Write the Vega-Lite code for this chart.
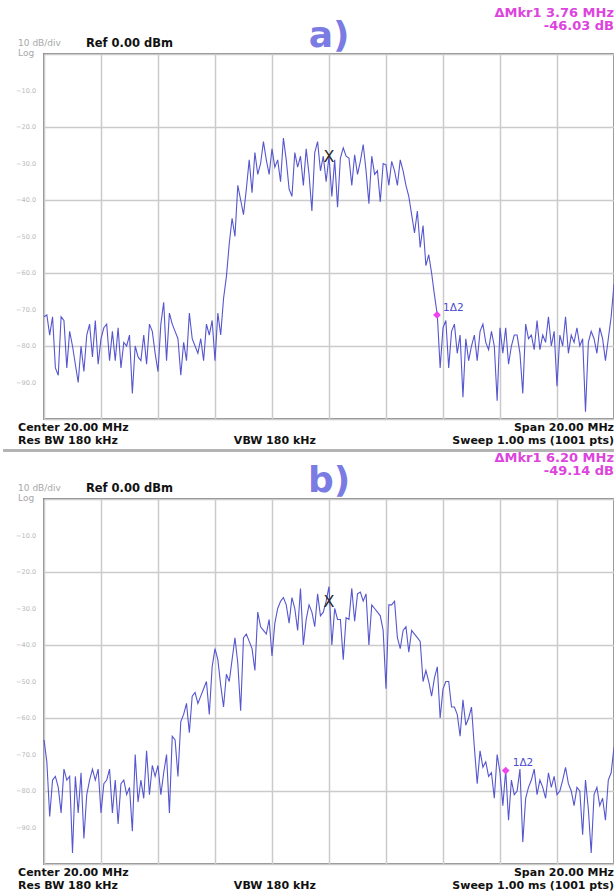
{
"$schema": "https://vega.github.io/schema/vega-lite/v6.json",
"autosize": {"type": "pad"},
"padding": 0,
"bounds": "flush",
"spacing": 80,
"background": "white",
"config": {
  "view": {"stroke": "#8c8c8c", "strokeWidth": 2},
  "font": "DejaVu Sans",
  "text": {"font": "DejaVu Sans"},
  "axis": {"labelFont": "DejaVu Sans"}
},
"datasets": {
"ticks": [{"v":-10},{"v":-20},{"v":-30},{"v":-40},{"v":-50},{"v":-60},{"v":-70},{"v":-80},{"v":-90}],
"tr": [
{"f":10.0,"a":-72,"b":-66},{"f":10.1,"a":-71.5,"b":-72},{"f":10.2,"a":-77,"b":-87},{"f":10.3,"a":-72,"b":-77},{"f":10.4,"a":-86,"b":-76},
{"f":10.5,"a":-88,"b":-79},{"f":10.6,"a":-72,"b":-86},{"f":10.7,"a":-73,"b":-74},{"f":10.8,"a":-86,"b":-77},{"f":10.9,"a":-76,"b":-76},
{"f":11.0,"a":-80,"b":-97},{"f":11.1,"a":-85,"b":-76},{"f":11.2,"a":-90,"b":-86},{"f":11.3,"a":-80,"b":-75},{"f":11.4,"a":-87,"b":-93},
{"f":11.5,"a":-77,"b":-81},{"f":11.6,"a":-74,"b":-77},{"f":11.7,"a":-83,"b":-74},{"f":11.8,"a":-73,"b":-77},{"f":11.9,"a":-85,"b":-74},
{"f":12.0,"a":-78,"b":-86},{"f":12.1,"a":-75,"b":-78},{"f":12.2,"a":-74,"b":-77},{"f":12.3,"a":-84,"b":-74},{"f":12.4,"a":-76,"b":-86},
{"f":12.5,"a":-84,"b":-77},{"f":12.6,"a":-75,"b":-89},{"f":12.7,"a":-86,"b":-78},{"f":12.8,"a":-79,"b":-77},{"f":12.9,"a":-80,"b":-81},
{"f":13.0,"a":-77,"b":-79},{"f":13.1,"a":-93,"b":-91},{"f":13.2,"a":-80,"b":-70},{"f":13.3,"a":-83,"b":-83},{"f":13.4,"a":-84,"b":-77},
{"f":13.5,"a":-77,"b":-82},{"f":13.6,"a":-85,"b":-69},{"f":13.7,"a":-74,"b":-81},{"f":13.8,"a":-76,"b":-73},{"f":13.9,"a":-82,"b":-76},
{"f":14.0,"a":-87,"b":-73},{"f":14.1,"a":-74,"b":-81},{"f":14.2,"a":-68,"b":-75},{"f":14.3,"a":-84,"b":-70},{"f":14.4,"a":-71,"b":-86},
{"f":14.5,"a":-74,"b":-65},{"f":14.6,"a":-76,"b":-66},{"f":14.7,"a":-78,"b":-76},{"f":14.8,"a":-88,"b":-61},{"f":14.9,"a":-79,"b":-59},
{"f":15.0,"a":-84,"b":-56},{"f":15.1,"a":-71,"b":-64},{"f":15.2,"a":-78,"b":-54},{"f":15.3,"a":-80,"b":-53},{"f":15.4,"a":-82,"b":-56},
{"f":15.5,"a":-78,"b":-54},{"f":15.6,"a":-84,"b":-52},{"f":15.7,"a":-74,"b":-50},{"f":15.8,"a":-77,"b":-59},{"f":15.9,"a":-73,"b":-46},
{"f":16.0,"a":-84,"b":-41},{"f":16.1,"a":-71,"b":-44},{"f":16.2,"a":-77,"b":-51},{"f":16.3,"a":-67,"b":-57},{"f":16.4,"a":-61,"b":-48},
{"f":16.5,"a":-52,"b":-50},{"f":16.6,"a":-45,"b":-44},{"f":16.7,"a":-50,"b":-38},{"f":16.8,"a":-36,"b":-45},{"f":16.9,"a":-40,"b":-58},
{"f":17.0,"a":-44,"b":-38},{"f":17.1,"a":-37,"b":-37},{"f":17.2,"a":-29,"b":-39},{"f":17.3,"a":-38,"b":-41},{"f":17.4,"a":-27,"b":-47},
{"f":17.5,"a":-33,"b":-31},{"f":17.6,"a":-30,"b":-35},{"f":17.7,"a":-24,"b":-36},{"f":17.8,"a":-29,"b":-37},{"f":17.9,"a":-33,"b":-33},
{"f":18.0,"a":-26,"b":-43},{"f":18.1,"a":-31,"b":-34},{"f":18.2,"a":-29,"b":-30},{"f":18.3,"a":-35,"b":-28},{"f":18.4,"a":-23,"b":-27},
{"f":18.5,"a":-29,"b":-29},{"f":18.6,"a":-37,"b":-34},{"f":18.7,"a":-39,"b":-27},{"f":18.8,"a":-27,"b":-30},{"f":18.9,"a":-31,"b":-36},
{"f":19.0,"a":-28,"b":-24.5},{"f":19.1,"a":-36,"b":-40},{"f":19.2,"a":-26,"b":-33},{"f":19.3,"a":-33,"b":-29},{"f":19.4,"a":-43,"b":-31},
{"f":19.5,"a":-27,"b":-35},{"f":19.6,"a":-24,"b":-26},{"f":19.7,"a":-32,"b":-32},{"f":19.8,"a":-28,"b":-31},{"f":19.9,"a":-35,"b":-28},
{"f":20.0,"a":-28,"b":-24},{"f":20.1,"a":-39,"b":-40},{"f":20.2,"a":-29,"b":-30},{"f":20.3,"a":-42,"b":-33},{"f":20.4,"a":-28.5,"b":-33},
{"f":20.5,"a":-25.7,"b":-44},{"f":20.6,"a":-28,"b":-32.5},{"f":20.7,"a":-28.5,"b":-33},{"f":20.8,"a":-36,"b":-24.5},{"f":20.9,"a":-27.6,"b":-33.5},
{"f":21.0,"a":-33,"b":-26},{"f":21.1,"a":-29.4,"b":-25.5},{"f":21.2,"a":-24.8,"b":-28},{"f":21.3,"a":-32,"b":-26},{"f":21.4,"a":-41,"b":-40},
{"f":21.5,"a":-28,"b":-29},{"f":21.6,"a":-33,"b":-30},{"f":21.7,"a":-32,"b":-31},{"f":21.8,"a":-40.5,"b":-32},{"f":21.9,"a":-30,"b":-36},
{"f":22.0,"a":-30.4,"b":-52},{"f":22.1,"a":-36,"b":-29},{"f":22.2,"a":-29.4,"b":-29},{"f":22.3,"a":-32,"b":-28},{"f":22.4,"a":-36,"b":-38},
{"f":22.5,"a":-29,"b":-41},{"f":22.6,"a":-32,"b":-36},{"f":22.7,"a":-36,"b":-35},{"f":22.8,"a":-39,"b":-42},{"f":22.9,"a":-44,"b":-36},
{"f":23.0,"a":-49,"b":-37},{"f":23.1,"a":-43,"b":-38},{"f":23.2,"a":-53,"b":-39},{"f":23.3,"a":-47,"b":-50},{"f":23.4,"a":-58,"b":-47},
{"f":23.5,"a":-55,"b":-50},{"f":23.6,"a":-60,"b":-54},{"f":23.7,"a":-66,"b":-49},{"f":23.8,"a":-71.5,"b":-46},{"f":23.9,"a":-86,"b":-60},
{"f":24.0,"a":-75,"b":-52},{"f":24.1,"a":-73,"b":-50},{"f":24.2,"a":-86,"b":-50},{"f":24.3,"a":-76,"b":-57},{"f":24.4,"a":-74,"b":-57},
{"f":24.5,"a":-82,"b":-59},{"f":24.6,"a":-77,"b":-65},{"f":24.7,"a":-94,"b":-55},{"f":24.8,"a":-78,"b":-62},{"f":24.9,"a":-84,"b":-60},
{"f":25.0,"a":-80,"b":-57},{"f":25.1,"a":-77,"b":-68},{"f":25.2,"a":-84,"b":-78},{"f":25.3,"a":-76,"b":-69},{"f":25.4,"a":-74,"b":-73.5},
{"f":25.5,"a":-79,"b":-72},{"f":25.6,"a":-81,"b":-76},{"f":25.7,"a":-76,"b":-75},{"f":25.8,"a":-80,"b":-82},{"f":25.9,"a":-95,"b":-70},
{"f":26.0,"a":-75,"b":-75},{"f":26.1,"a":-82,"b":-84},{"f":26.2,"a":-75,"b":-74.4},{"f":26.3,"a":-85,"b":-88},{"f":26.4,"a":-80,"b":-77},
{"f":26.5,"a":-77,"b":-81},{"f":26.6,"a":-77,"b":-80},{"f":26.7,"a":-82,"b":-74},{"f":26.8,"a":-93,"b":-94},{"f":26.9,"a":-74,"b":-82},
{"f":27.0,"a":-78,"b":-79},{"f":27.1,"a":-77,"b":-77},{"f":27.2,"a":-81,"b":-74},{"f":27.3,"a":-73,"b":-81},{"f":27.4,"a":-81,"b":-77},
{"f":27.5,"a":-77,"b":-79},{"f":27.6,"a":-79,"b":-82},{"f":27.7,"a":-72,"b":-75},{"f":27.8,"a":-80,"b":-79},{"f":27.9,"a":-76,"b":-76},
{"f":28.0,"a":-91,"b":-81},{"f":28.1,"a":-77,"b":-80},{"f":28.2,"a":-80,"b":-77},{"f":28.3,"a":-72,"b":-73.5},{"f":28.4,"a":-82,"b":-78},
{"f":28.5,"a":-77,"b":-80},{"f":28.6,"a":-79,"b":-84},{"f":28.7,"a":-75,"b":-79},{"f":28.8,"a":-80,"b":-80},{"f":28.9,"a":-78,"b":-92},
{"f":29.0,"a":-98,"b":-77},{"f":29.1,"a":-79,"b":-85},{"f":29.2,"a":-76,"b":-97},{"f":29.3,"a":-78,"b":-81},{"f":29.4,"a":-82,"b":-79},
{"f":29.5,"a":-75,"b":-84},{"f":29.6,"a":-78,"b":-82},{"f":29.7,"a":-84,"b":-88},{"f":29.8,"a":-78,"b":-77},{"f":29.9,"a":-72,"b":-75},
{"f":30.0,"a":-63,"b":-68}
]
},
"vconcat": [
{
"width": 570, "height": 365,
"layer": [
{"data": {"name": "tr"},
 "mark": {"type": "line", "color": "#5656cf", "strokeWidth": 1.1},
 "encoding": {
  "x": {"field": "f", "type": "quantitative", "scale": {"domain": [10, 30], "nice": false, "zero": false},
        "axis": {"title": null, "values": [10,12,14,16,18,20,22,24,26,28,30], "labels": false, "ticks": false, "domain": false, "grid": true, "gridColor": "#cbcbcb", "gridWidth": 1.5}},
  "y": {"field": "a", "type": "quantitative", "scale": {"domain": [-100, 0], "nice": false, "zero": false},
        "axis": {"title": null, "values": [-100,-90,-80,-70,-60,-50,-40,-30,-20,-10,0], "labels": false, "ticks": false, "domain": false, "grid": true, "gridColor": "#cbcbcb", "gridWidth": 1.5}}
 }},
{"data": {"name": "ticks"},
 "mark": {"type": "text", "fontSize": 6.5, "color": "#b8b8b8", "align": "right", "baseline": "middle"},
 "encoding": {"x": {"datum": 9.72, "scale": {"domain": [10, 30], "nice": false, "zero": false}},
              "y": {"field": "v", "type": "quantitative", "scale": {"domain": [-100, 0], "nice": false, "zero": false}},
              "text": {"field": "v", "type": "quantitative", "format": ".1f"}}},
{"data": {"values": [{"f": 20.0, "db": -28.2}]},
 "mark": {"type": "text", "text": "X", "fontSize": 16, "color": "#2a2a2a", "baseline": "middle", "align": "center"},
 "encoding": {"x": {"field": "f", "type": "quantitative", "scale": {"domain": [10, 30], "nice": false, "zero": false}},
              "y": {"field": "db", "type": "quantitative", "scale": {"domain": [-100, 0], "nice": false, "zero": false}}}},
{"data": {"values": [{"f": 23.79, "db": -71.5}]},
 "mark": {"type": "point", "shape": "diamond", "filled": true, "size": 60, "color": "#ee44ee", "opacity": 1},
 "encoding": {"x": {"field": "f", "type": "quantitative", "scale": {"domain": [10, 30], "nice": false, "zero": false}},
              "y": {"field": "db", "type": "quantitative", "scale": {"domain": [-100, 0], "nice": false, "zero": false}}}},
{"data": {"values": [{"f": 23.79, "db": -71.5}]},
 "mark": {"type": "text", "text": "1Δ2", "fontSize": 10.5, "color": "#4a4ad0", "align": "left", "baseline": "middle", "dx": 6, "dy": -7},
 "encoding": {"x": {"field": "f", "type": "quantitative", "scale": {"domain": [10, 30], "nice": false, "zero": false}},
              "y": {"field": "db", "type": "quantitative", "scale": {"domain": [-100, 0], "nice": false, "zero": false}}}},
{"data": {"values": [{"t": "10 dB/div"}]},
 "mark": {"type": "text", "fontSize": 9, "color": "#a8a8a8", "align": "left", "baseline": "middle"},
 "encoding": {"x": {"datum": 9.09, "scale": {"domain": [10, 30], "nice": false, "zero": false}}, "y": {"datum": 3.0, "scale": {"domain": [-100, 0], "nice": false, "zero": false}}, "text": {"field": "t"}}},
{"data": {"values": [{"t": "Log"}]},
 "mark": {"type": "text", "fontSize": 9, "color": "#a8a8a8", "align": "left", "baseline": "middle"},
 "encoding": {"x": {"datum": 9.09, "scale": {"domain": [10, 30], "nice": false, "zero": false}}, "y": {"datum": 0.2, "scale": {"domain": [-100, 0], "nice": false, "zero": false}}, "text": {"field": "t"}}},
{"data": {"values": [{"t": "Ref 0.00 dBm"}]},
 "mark": {"type": "text", "fontSize": 11.5, "fontWeight": "bold", "color": "#111111", "align": "left", "baseline": "middle"},
 "encoding": {"x": {"datum": 11.47, "scale": {"domain": [10, 30], "nice": false, "zero": false}}, "y": {"datum": 2.7, "scale": {"domain": [-100, 0], "nice": false, "zero": false}}, "text": {"field": "t"}}},
{"data": {"values": [{"t": "a)"}]},
 "mark": {"type": "text", "fontSize": 36, "fontWeight": "bold", "color": "#7b7be4", "align": "center", "baseline": "middle"},
 "encoding": {"x": {"datum": 20.0, "scale": {"domain": [10, 30], "nice": false, "zero": false}}, "y": {"datum": 5.0, "scale": {"domain": [-100, 0], "nice": false, "zero": false}}, "text": {"field": "t"}}},
{"data": {"values": [{"t": "ΔMkr1 3.76 MHz"}]},
 "mark": {"type": "text", "fontSize": 13, "fontWeight": "bold", "color": "#dd44dd", "align": "right", "baseline": "middle"},
 "encoding": {"x": {"datum": 30.0, "scale": {"domain": [10, 30], "nice": false, "zero": false}}, "y": {"datum": 11.3, "scale": {"domain": [-100, 0], "nice": false, "zero": false}}, "text": {"field": "t"}}},
{"data": {"values": [{"t": "-46.03 dB"}]},
 "mark": {"type": "text", "fontSize": 13, "fontWeight": "bold", "color": "#dd44dd", "align": "right", "baseline": "middle"},
 "encoding": {"x": {"datum": 30.0, "scale": {"domain": [10, 30], "nice": false, "zero": false}}, "y": {"datum": 7.6, "scale": {"domain": [-100, 0], "nice": false, "zero": false}}, "text": {"field": "t"}}},
{"data": {"values": [{"t": "Center 20.00 MHz"}]},
 "mark": {"type": "text", "fontSize": 11, "fontWeight": "bold", "color": "#111111", "align": "left", "baseline": "middle"},
 "encoding": {"x": {"datum": 9.09, "scale": {"domain": [10, 30], "nice": false, "zero": false}}, "y": {"datum": -102.4, "scale": {"domain": [-100, 0], "nice": false, "zero": false}}, "text": {"field": "t"}}},
{"data": {"values": [{"t": "Res BW 180 kHz"}]},
 "mark": {"type": "text", "fontSize": 11, "fontWeight": "bold", "color": "#111111", "align": "left", "baseline": "middle"},
 "encoding": {"x": {"datum": 9.09, "scale": {"domain": [10, 30], "nice": false, "zero": false}}, "y": {"datum": -106.0, "scale": {"domain": [-100, 0], "nice": false, "zero": false}}, "text": {"field": "t"}}},
{"data": {"values": [{"t": "VBW 180 kHz"}]},
 "mark": {"type": "text", "fontSize": 11, "fontWeight": "bold", "color": "#111111", "align": "center", "baseline": "middle"},
 "encoding": {"x": {"datum": 18.1, "scale": {"domain": [10, 30], "nice": false, "zero": false}}, "y": {"datum": -106.0, "scale": {"domain": [-100, 0], "nice": false, "zero": false}}, "text": {"field": "t"}}},
{"data": {"values": [{"t": "Span 20.00 MHz"}]},
 "mark": {"type": "text", "fontSize": 11, "fontWeight": "bold", "color": "#111111", "align": "right", "baseline": "middle"},
 "encoding": {"x": {"datum": 30.0, "scale": {"domain": [10, 30], "nice": false, "zero": false}}, "y": {"datum": -102.4, "scale": {"domain": [-100, 0], "nice": false, "zero": false}}, "text": {"field": "t"}}},
{"data": {"values": [{"t": "Sweep  1.00 ms (1001 pts)"}]},
 "mark": {"type": "text", "fontSize": 11, "fontWeight": "bold", "color": "#111111", "align": "right", "baseline": "middle"},
 "encoding": {"x": {"datum": 30.0, "scale": {"domain": [10, 30], "nice": false, "zero": false}}, "y": {"datum": -106.0, "scale": {"domain": [-100, 0], "nice": false, "zero": false}}, "text": {"field": "t"}}},
{"data": {"values": [{"t": "sep"}]},
 "mark": {"type": "rule", "color": "#b4b4b4", "strokeWidth": 3},
 "encoding": {"x": {"datum": 8.562, "scale": {"domain": [10, 30], "nice": false, "zero": false}}, "x2": {"datum": 30.105}, "y": {"datum": -108.6, "scale": {"domain": [-100, 0], "nice": false, "zero": false}}}},
{"data": {"values": [{"t": "topedge"}]},
 "mark": {"type": "rule", "strokeOpacity": 0, "strokeWidth": 0.01},
 "encoding": {"x": {"datum": 20.0, "scale": {"domain": [10, 30], "nice": false, "zero": false}}, "y": {"datum": 14.38, "scale": {"domain": [-100, 0], "nice": false, "zero": false}}, "y2": {"datum": 0}}}
]
},
{
"width": 570, "height": 365,
"layer": [
{"data": {"name": "tr"},
 "mark": {"type": "line", "color": "#5656cf", "strokeWidth": 1.1},
 "encoding": {
  "x": {"field": "f", "type": "quantitative", "scale": {"domain": [10, 30], "nice": false, "zero": false},
        "axis": {"title": null, "values": [10,12,14,16,18,20,22,24,26,28,30], "labels": false, "ticks": false, "domain": false, "grid": true, "gridColor": "#cbcbcb", "gridWidth": 1.5}},
  "y": {"field": "b", "type": "quantitative", "scale": {"domain": [-100, 0], "nice": false, "zero": false},
        "axis": {"title": null, "values": [-100,-90,-80,-70,-60,-50,-40,-30,-20,-10,0], "labels": false, "ticks": false, "domain": false, "grid": true, "gridColor": "#cbcbcb", "gridWidth": 1.5}}
 }},
{"data": {"name": "ticks"},
 "mark": {"type": "text", "fontSize": 6.5, "color": "#b8b8b8", "align": "right", "baseline": "middle"},
 "encoding": {"x": {"datum": 9.72, "scale": {"domain": [10, 30], "nice": false, "zero": false}},
              "y": {"field": "v", "type": "quantitative", "scale": {"domain": [-100, 0], "nice": false, "zero": false}},
              "text": {"field": "v", "type": "quantitative", "format": ".1f"}}},
{"data": {"values": [{"f": 20.0, "db": -28.2}]},
 "mark": {"type": "text", "text": "X", "fontSize": 16, "color": "#2a2a2a", "baseline": "middle", "align": "center"},
 "encoding": {"x": {"field": "f", "type": "quantitative", "scale": {"domain": [10, 30], "nice": false, "zero": false}},
              "y": {"field": "db", "type": "quantitative", "scale": {"domain": [-100, 0], "nice": false, "zero": false}}}},
{"data": {"values": [{"f": 26.2, "db": -74.4}]},
 "mark": {"type": "point", "shape": "diamond", "filled": true, "size": 60, "color": "#ee44ee", "opacity": 1},
 "encoding": {"x": {"field": "f", "type": "quantitative", "scale": {"domain": [10, 30], "nice": false, "zero": false}},
              "y": {"field": "db", "type": "quantitative", "scale": {"domain": [-100, 0], "nice": false, "zero": false}}}},
{"data": {"values": [{"f": 26.2, "db": -74.4}]},
 "mark": {"type": "text", "text": "1Δ2", "fontSize": 10.5, "color": "#4a4ad0", "align": "left", "baseline": "middle", "dx": 7, "dy": -8},
 "encoding": {"x": {"field": "f", "type": "quantitative", "scale": {"domain": [10, 30], "nice": false, "zero": false}},
              "y": {"field": "db", "type": "quantitative", "scale": {"domain": [-100, 0], "nice": false, "zero": false}}}},
{"data": {"values": [{"t": "10 dB/div"}]},
 "mark": {"type": "text", "fontSize": 9, "color": "#a8a8a8", "align": "left", "baseline": "middle"},
 "encoding": {"x": {"datum": 9.09, "scale": {"domain": [10, 30], "nice": false, "zero": false}}, "y": {"datum": 3.0, "scale": {"domain": [-100, 0], "nice": false, "zero": false}}, "text": {"field": "t"}}},
{"data": {"values": [{"t": "Log"}]},
 "mark": {"type": "text", "fontSize": 9, "color": "#a8a8a8", "align": "left", "baseline": "middle"},
 "encoding": {"x": {"datum": 9.09, "scale": {"domain": [10, 30], "nice": false, "zero": false}}, "y": {"datum": 0.2, "scale": {"domain": [-100, 0], "nice": false, "zero": false}}, "text": {"field": "t"}}},
{"data": {"values": [{"t": "Ref 0.00 dBm"}]},
 "mark": {"type": "text", "fontSize": 11.5, "fontWeight": "bold", "color": "#111111", "align": "left", "baseline": "middle"},
 "encoding": {"x": {"datum": 11.47, "scale": {"domain": [10, 30], "nice": false, "zero": false}}, "y": {"datum": 2.7, "scale": {"domain": [-100, 0], "nice": false, "zero": false}}, "text": {"field": "t"}}},
{"data": {"values": [{"t": "b)"}]},
 "mark": {"type": "text", "fontSize": 36, "fontWeight": "bold", "color": "#7b7be4", "align": "center", "baseline": "middle"},
 "encoding": {"x": {"datum": 20.0, "scale": {"domain": [10, 30], "nice": false, "zero": false}}, "y": {"datum": 5.0, "scale": {"domain": [-100, 0], "nice": false, "zero": false}}, "text": {"field": "t"}}},
{"data": {"values": [{"t": "ΔMkr1 6.20 MHz"}]},
 "mark": {"type": "text", "fontSize": 13, "fontWeight": "bold", "color": "#dd44dd", "align": "right", "baseline": "middle"},
 "encoding": {"x": {"datum": 30.0, "scale": {"domain": [10, 30], "nice": false, "zero": false}}, "y": {"datum": 11.3, "scale": {"domain": [-100, 0], "nice": false, "zero": false}}, "text": {"field": "t"}}},
{"data": {"values": [{"t": "-49.14 dB"}]},
 "mark": {"type": "text", "fontSize": 13, "fontWeight": "bold", "color": "#dd44dd", "align": "right", "baseline": "middle"},
 "encoding": {"x": {"datum": 30.0, "scale": {"domain": [10, 30], "nice": false, "zero": false}}, "y": {"datum": 7.6, "scale": {"domain": [-100, 0], "nice": false, "zero": false}}, "text": {"field": "t"}}},
{"data": {"values": [{"t": "Center 20.00 MHz"}]},
 "mark": {"type": "text", "fontSize": 11, "fontWeight": "bold", "color": "#111111", "align": "left", "baseline": "middle"},
 "encoding": {"x": {"datum": 9.09, "scale": {"domain": [10, 30], "nice": false, "zero": false}}, "y": {"datum": -102.4, "scale": {"domain": [-100, 0], "nice": false, "zero": false}}, "text": {"field": "t"}}},
{"data": {"values": [{"t": "Res BW 180 kHz"}]},
 "mark": {"type": "text", "fontSize": 11, "fontWeight": "bold", "color": "#111111", "align": "left", "baseline": "middle"},
 "encoding": {"x": {"datum": 9.09, "scale": {"domain": [10, 30], "nice": false, "zero": false}}, "y": {"datum": -106.0, "scale": {"domain": [-100, 0], "nice": false, "zero": false}}, "text": {"field": "t"}}},
{"data": {"values": [{"t": "VBW 180 kHz"}]},
 "mark": {"type": "text", "fontSize": 11, "fontWeight": "bold", "color": "#111111", "align": "center", "baseline": "middle"},
 "encoding": {"x": {"datum": 18.1, "scale": {"domain": [10, 30], "nice": false, "zero": false}}, "y": {"datum": -106.0, "scale": {"domain": [-100, 0], "nice": false, "zero": false}}, "text": {"field": "t"}}},
{"data": {"values": [{"t": "Span 20.00 MHz"}]},
 "mark": {"type": "text", "fontSize": 11, "fontWeight": "bold", "color": "#111111", "align": "right", "baseline": "middle"},
 "encoding": {"x": {"datum": 30.0, "scale": {"domain": [10, 30], "nice": false, "zero": false}}, "y": {"datum": -102.4, "scale": {"domain": [-100, 0], "nice": false, "zero": false}}, "text": {"field": "t"}}},
{"data": {"values": [{"t": "Sweep  1.00 ms (1001 pts)"}]},
 "mark": {"type": "text", "fontSize": 11, "fontWeight": "bold", "color": "#111111", "align": "right", "baseline": "middle"},
 "encoding": {"x": {"datum": 30.0, "scale": {"domain": [10, 30], "nice": false, "zero": false}}, "y": {"datum": -106.0, "scale": {"domain": [-100, 0], "nice": false, "zero": false}}, "text": {"field": "t"}}},
{"data": {"values": [{"t": "bottomedge"}]},
 "mark": {"type": "rule", "strokeOpacity": 0, "strokeWidth": 0.01},
 "encoding": {"x": {"datum": 8.562, "scale": {"domain": [10, 30], "nice": false, "zero": false}}, "x2": {"datum": 30.105}, "y": {"datum": -108.63, "scale": {"domain": [-100, 0], "nice": false, "zero": false}}}}
]
}
]
}
